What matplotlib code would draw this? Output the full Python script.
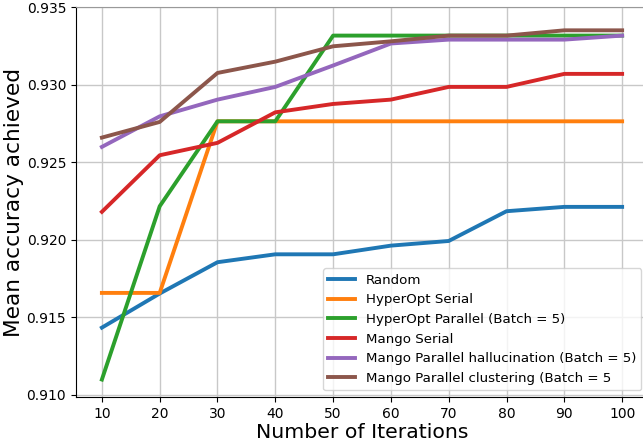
import numpy as np
import matplotlib
matplotlib.use('Agg')
import matplotlib.pyplot as plt

# values
iterations = [10, 20, 30, 40, 50, 60, 70, 80, 90, 100]
random_acc = [0.91432, 0.91652, 0.91854, 0.91905, 0.91905, 0.91961, 0.91991, 0.92183, 0.92211, 0.92211]
hyperopt_serial = [0.91656, 0.91656, 0.92763, 0.92763, 0.92763, 0.92763, 0.92763, 0.92763, 0.92763, 0.92763]
hyperopt_parallel = [0.91097, 0.92215, 0.92763, 0.92763, 0.93316, 0.93316, 0.93316, 0.93316, 0.93316, 0.93316]
mango_serial = [0.92179, 0.92544, 0.92624, 0.92821, 0.92875, 0.92903, 0.92985, 0.92985, 0.93069, 0.93069]
mango_halluc = [0.92598, 0.92795, 0.92903, 0.92985, 0.93123, 0.93265, 0.93290, 0.93290, 0.93290, 0.93316]
mango_cluster = [0.92658, 0.92759, 0.93075, 0.93148, 0.93247, 0.93279, 0.93316, 0.93316, 0.93350, 0.93350]

labels = ['Random', 'HyperOpt Serial', 'HyperOpt Parallel (Batch = 5)', 'Mango Serial',
          'Mango Parallel hallucination (Batch = 5)', 'Mango Parallel clustering (Batch = 5']
series = [random_acc, hyperopt_serial, hyperopt_parallel, mango_serial, mango_halluc, mango_cluster]

fig = plt.figure(figsize=(6.43, 4.42), dpi=100)
ax = fig.add_axes([0.118, 0.102, 0.89, 0.882])

for vals, lab in zip(series, labels):
    ax.plot(iterations, vals, linewidth=2.8, label=lab)

ax.set_xticks(iterations)
ax.set_yticks([0.910, 0.915, 0.920, 0.925, 0.930, 0.935])
ax.set_xlim(5.5, 104.5)
ax.set_ylim(0.90985, 0.935)
ax.grid(True, color='#c8c8c8', linewidth=1)
ax.tick_params(labelsize=10)
ax.spines['top'].set_color('#999999')
ax.set_xlabel('Number of Iterations', fontsize=14.7, labelpad=2)
ax.set_ylabel('Mean accuracy achieved', fontsize=15.6, labelpad=2)
ax.legend(loc='lower right', fontsize=9.6)

fig.savefig('out.png', dpi=100)
